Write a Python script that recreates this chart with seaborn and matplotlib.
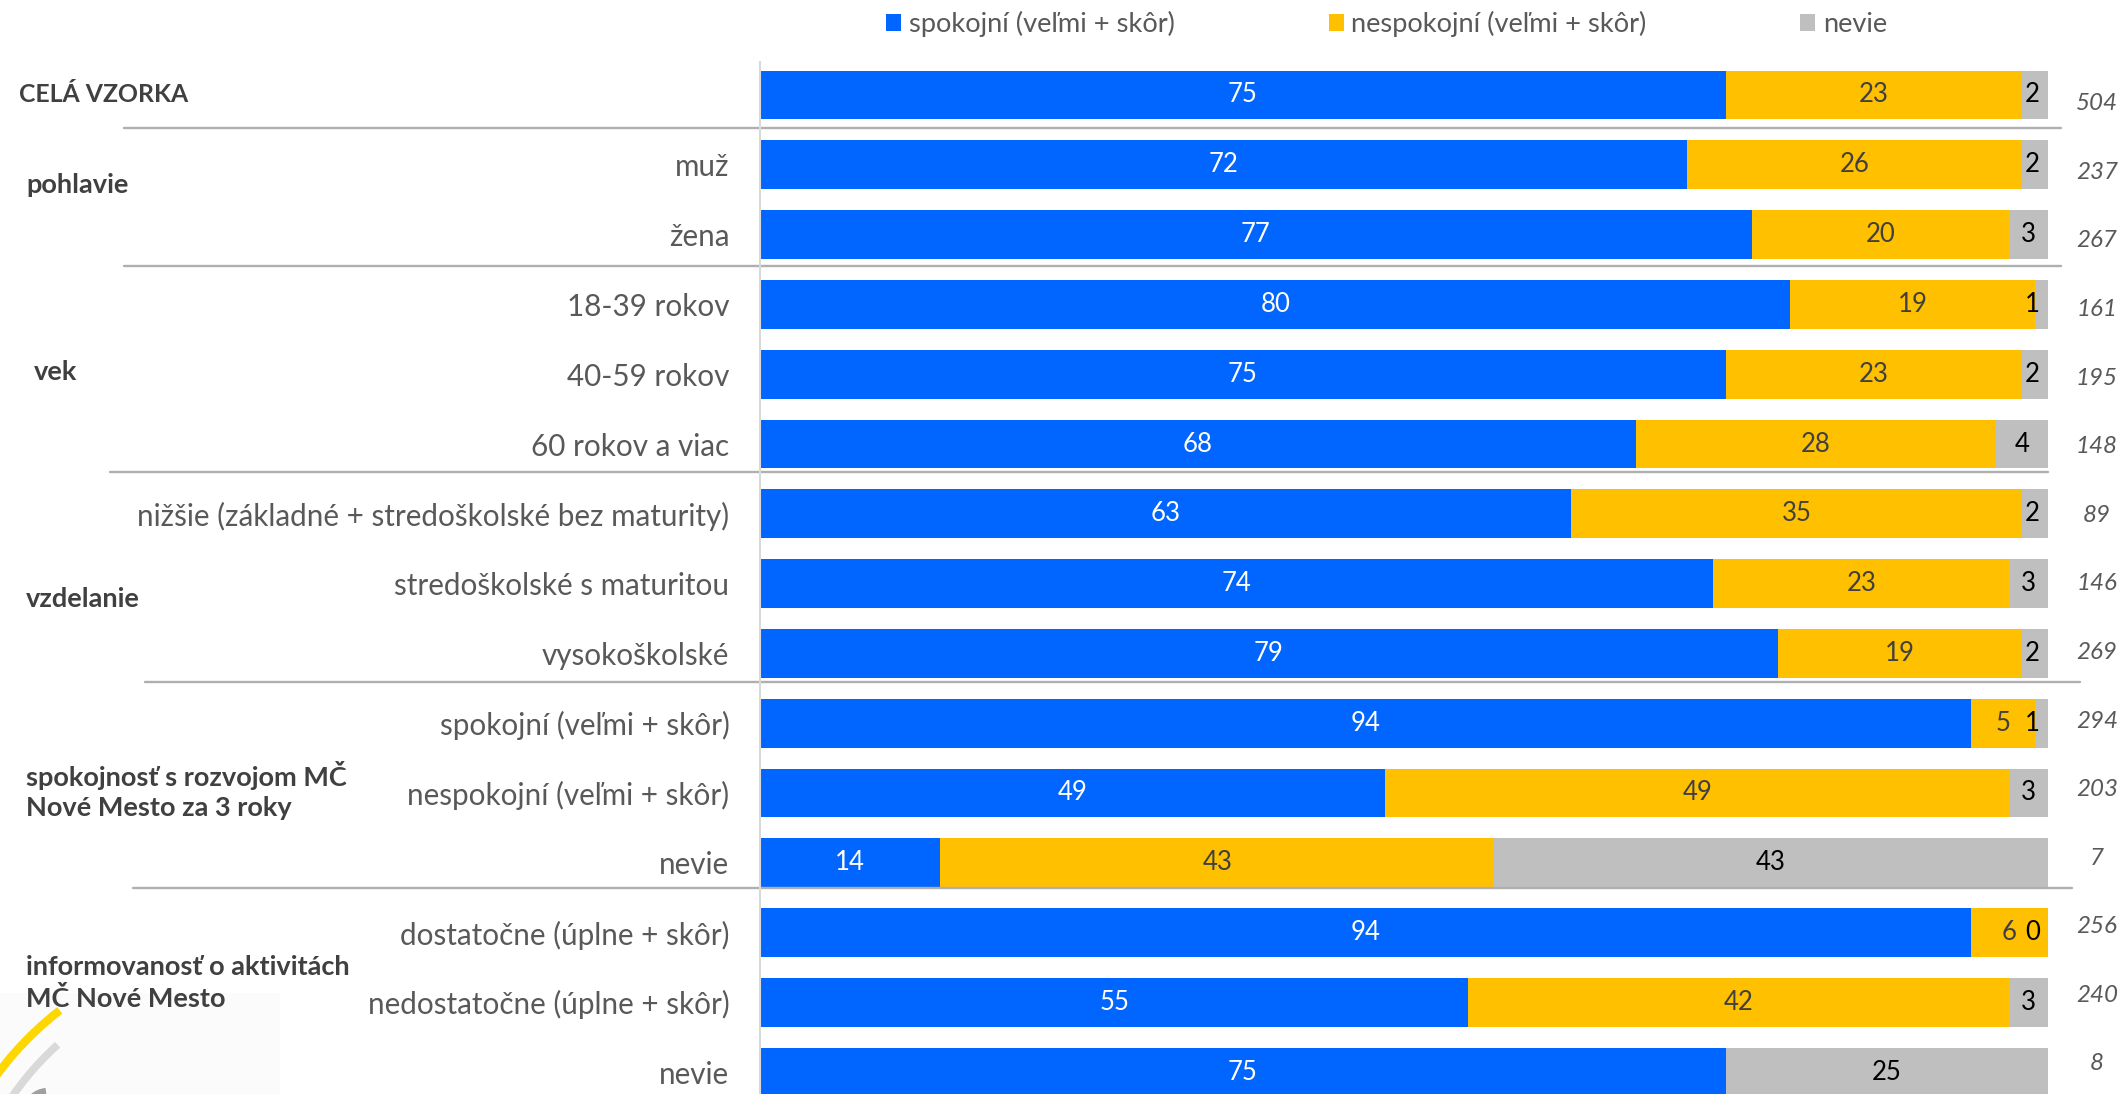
import numpy as np
import pandas as pd
import seaborn as sns
import matplotlib
matplotlib.use("Agg")
import matplotlib.pyplot as plt
import matplotlib.transforms as mtransforms
from matplotlib.patches import Patch, Arc, Rectangle
from matplotlib.lines import Line2D

# ---------------- data ----------------
row_labels = ["", "muž", "žena", "18-39 rokov", "40-59 rokov", "60 rokov a viac",
              "nižšie (základné + stredoškolské bez maturity)", "stredoškolské s maturitou",
              "vysokoškolské", "spokojní (veľmi + skôr)", "nespokojní (veľmi + skôr)", "nevie",
              "dostatočne (úplne + skôr)", "nedostatočne (úplne + skôr)", "nevie"]
spokojni = [75, 72, 77, 80, 75, 68, 63, 74, 79, 94, 49, 14, 94, 55, 75]
nespokojni = [23, 26, 20, 19, 23, 28, 35, 23, 19, 5, 49, 43, 6, 42, None]
nevie = [2, 2, 3, 1, 2, 4, 2, 3, 2, 1, 3, 43, 0, 3, 25]
sample_n = [504, 237, 267, 161, 195, 148, 89, 146, 269, 294, 203, 7, 256, 240, 8]
group_labels = ["CELÁ VZORKA", "pohlavie", "vek", "vzdelanie",
                "spokojnosť s rozvojom MČ\nNové Mesto za 3 roky",
                "informovanosť o aktivitách\nMČ Nové Mesto"]
series_names = ["spokojní (veľmi + skôr)", "nespokojní (veľmi + skôr)", "nevie"]

# ---------------- style ----------------
BLUE, YELLOW, GRAY = "#0066FF", "#FFC000", "#BFBFBF"
FONT = ["Lato", "DejaVu Sans"]
sns.set_style("white")
plt.rcParams["font.family"] = FONT

W, H = 2120, 1094
fig = plt.figure(figsize=(W / 100, H / 100), dpi=100)
fig.patch.set_facecolor("white")

# faint logo background + logo fragment (bottom-left), drawn first
idt = mtransforms.IdentityTransform()
fig.add_artist(Rectangle((0, 0), 280, 101, facecolor="#FBFBFB", edgecolor="none",
                         transform=idt, zorder=0))
fig.add_artist(Arc((255, -170), 640, 640, theta1=127.6, theta2=150, color="#FFD700",
                   lw=6, transform=idt, zorder=1))
fig.add_artist(Arc((255, -170), 590, 590, theta1=132, theta2=150, color="#D9D9D9",
                   lw=5.5, transform=idt, zorder=1))
fig.add_artist(Arc((48, -20), 44, 44, theta1=95, theta2=170, color="#A0A0A0",
                   lw=6, transform=idt, zorder=1))

ax_left, ax_right, ax_top = 760, 2048, 62
ax = fig.add_axes([ax_left / W, 0, (ax_right - ax_left) / W, 1 - ax_top / H])
ax.patch.set_alpha(0)

n = len(row_labels)
b = np.array(spokojni, float)
y = np.array([v if v is not None else 0 for v in nespokojni], float)
g = np.array(nevie, float)
tot = b + y + g
df = pd.DataFrame({
    "row": [f"r{i}" for i in range(n)],
    "c1": b / tot * 100,
    "c2": (b + y) / tot * 100,
    "c3": np.full(n, 100.0),
})

for col, colr in [("c3", GRAY), ("c2", YELLOW), ("c1", BLUE)]:
    sns.barplot(data=df, y="row", x=col, orient="h", color=colr, saturation=1,
                errorbar=None, width=0.70, linewidth=0, ax=ax)

row_px = 69.8
ax.set_xlim(0, 100)
ax.set_ylim((H - 95) / row_px, -(95 - ax_top) / row_px)
ax.set_xlabel("")
ax.set_ylabel("")
ax.set_xticks([])
ax.set_yticks(range(n))
ax.set_yticklabels(row_labels, fontsize=21.3, color="#595959")
ax.tick_params(axis="y", length=0, pad=22)
for s in ["top", "right", "bottom"]:
    ax.spines[s].set_visible(False)
ax.spines["left"].set_color("#D9D9D9")
ax.spines["left"].set_linewidth(1.5)

# value labels
starts = [np.zeros(n), df["c1"].values, df["c2"].values]
ends = [df["c1"].values, df["c2"].values, df["c3"].values]
vals = [spokojni, nespokojni, nevie]
tcols = ["white", "#404040", "black"]
for k in range(3):
    for i in range(n):
        v = vals[k][i]
        if v is None:
            continue
        cx = min((starts[k][i] + ends[k][i]) / 2, 98.8)
        ax.text(cx, i, f"{v}", ha="center", va="center", fontsize=18.5,
                color=tcols[k])

# sample size (right)
bt = mtransforms.blended_transform_factory(fig.transFigure, ax.transData)
for i, nv in enumerate(sample_n):
    ax.text(2097 / W, i + 0.126 - 0.0174 * i, f"{nv}", transform=bt, ha="center",
            va="center", fontsize=17.4, style="italic", color="#595959")

# group labels
gy = [0, 1.29, 3.97, 7.22, 9.97, 12.72]
gx = [19, 26, 34, 26, 26, 26]
gs = [17.8, 19.5, 19.5, 19.5, 19.5, 19.5]
for lab, yy, xx, fs in zip(group_labels, gy, gx, gs):
    ax.text(xx / W, yy, lab, transform=bt, ha="left", va="center", fontsize=fs,
            fontweight="bold", color="#404040", linespacing=1.3)

# separators
seps = [(0.47, 124, 2061), (2.45, 124, 2061), (5.40, 110, 2048),
        (8.41, 145, 2080), (11.36, 133, 2072)]
for yy, x0, x1 in seps:
    ax.add_line(Line2D([x0 / W, x1 / W], [yy, yy], transform=bt, color="#AFAFAF",
                       lw=1.7, clip_on=False))

# legend
handles = [Patch(facecolor=c, edgecolor="none", label=l)
           for c, l in zip([BLUE, YELLOW, GRAY], series_names)]
fig.legend(handles=handles, loc="center left", bbox_to_anchor=(886 / W, 1 - 24 / H),
           ncol=3, frameon=False, fontsize=19.6, handlelength=0.55, handleheight=0.55,
           handletextpad=0.28, columnspacing=5.66, borderpad=0, borderaxespad=0,
           labelcolor="#595959")

fig.savefig("out.png", dpi=100, facecolor="white")
